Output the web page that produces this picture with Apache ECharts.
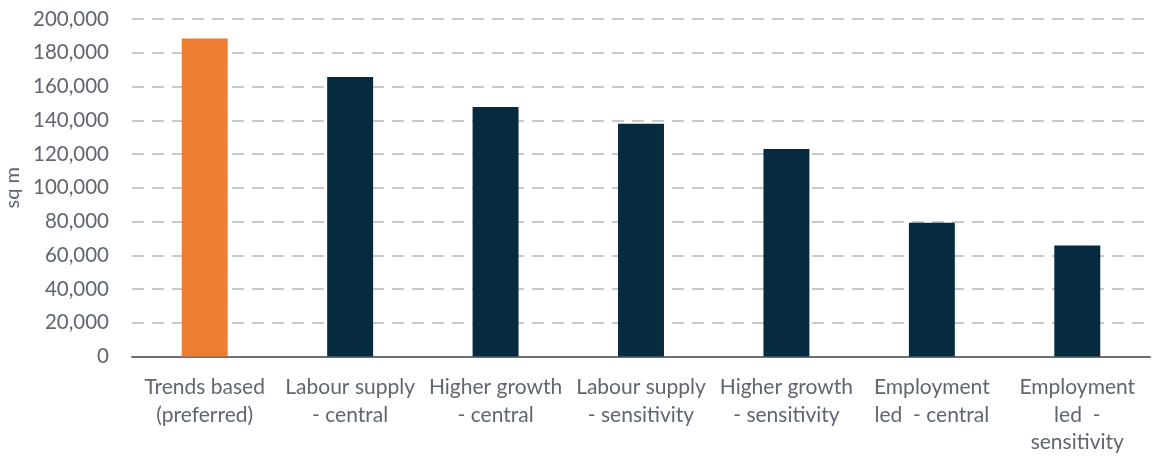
<!DOCTYPE html>
<html>
<head>
<meta charset="utf-8">
<script src="https://cdn.jsdelivr.net/npm/echarts@6/dist/echarts.min.js"></script>
<style>html,body{margin:0;padding:0;background:#fff;}#c{width:1152px;height:457px;}</style>
</head>
<body>
<div id="c"></div>
<script>
const categories = ["Trends based\n(preferred)", "Labour supply\n- central", "Higher growth\n- central", "Labour supply\n- sensitivity", "Higher growth\n- sensitivity", "Employment\nled  - central", "Employment\nled  -\nsensitivity"];
const values = [188400, 165700, 147900, 138000, 123000, 79200, 65800];
const barColors = ["#ED7D31", "#072B3E", "#072B3E", "#072B3E", "#072B3E", "#072B3E", "#072B3E"];
const yTicks = {min: 0, max: 200000, interval: 20000};

const chart = echarts.init(document.getElementById('c'));
const font = "Lato, 'Open Sans', sans-serif";
chart.setOption({
  animation: false,
  grid: {left: 132, right: 2, top: 19, bottom: 100.5, containLabel: false, outerBoundsMode: 'none'},
  xAxis: {
    type: 'category',
    data: categories,
    axisLine: {show: true, lineStyle: {color: '#6b7178', width: 2}},
    axisTick: {show: false},
    axisLabel: {color: '#5f6670', fontSize: 21, fontFamily: font, lineHeight: 27.5, margin: 17, interval: 0}
  },
  yAxis: {
    type: 'value',
    min: yTicks.min, max: yTicks.max, interval: yTicks.interval,
    name: 'sq m',
    nameLocation: 'middle',
    nameGap: 108,
    nameRotate: 90,
    nameTextStyle: {color: '#5f6670', fontSize: 20, fontFamily: font},
    axisLine: {show: false},
    axisTick: {show: false},
    axisLabel: {color: '#5f6670', fontSize: 20.5, fontFamily: font, margin: 23,
      formatter: v => v.toLocaleString('en-US')},
    splitLine: {lineStyle: {color: '#c8cacd', width: 2, type: [12, 8]}}
  },
  series: [{
    type: 'bar',
    data: values.map((v, i) => ({value: v, itemStyle: {color: barColors[i]}})),
    barWidth: '31.6%'
  }]
});
</script>
</body>
</html>
